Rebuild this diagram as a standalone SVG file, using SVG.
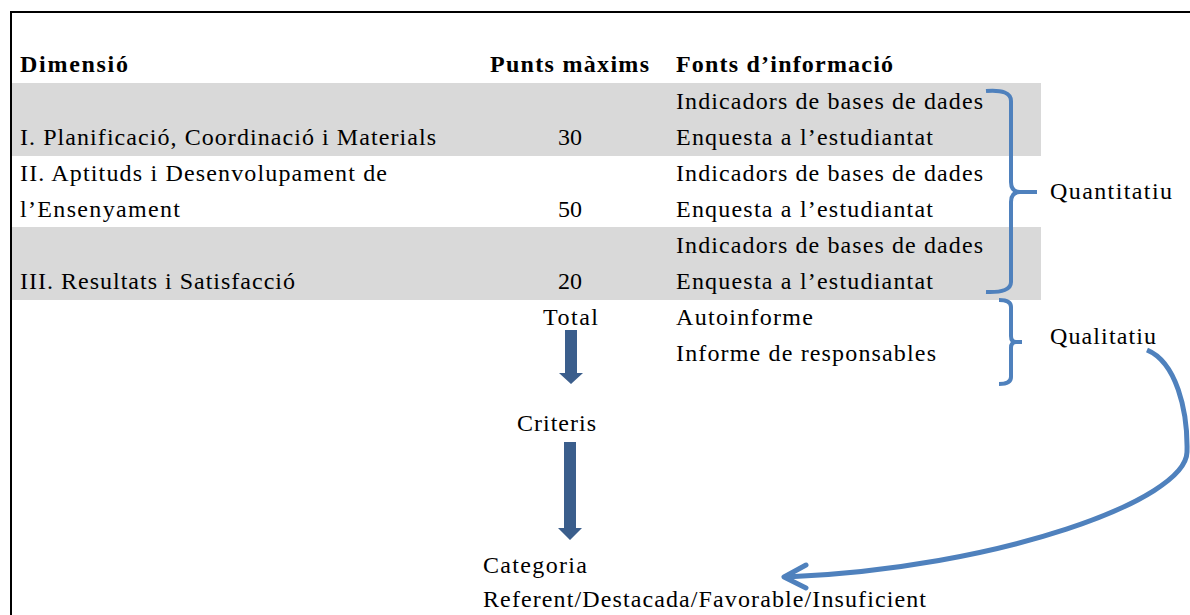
<svg xmlns="http://www.w3.org/2000/svg" width="1190" height="615" viewBox="0 0 1190 615">
<style>
text{font-family:"Liberation Serif",Tinos,"Times New Roman","Noto Serif","DejaVu Serif",serif;font-size:24px;fill:#000}
.b{font-weight:bold}
.m{text-anchor:middle}
.band{fill:#D9D9D9}
.brace{fill:none;stroke:#4F81BD;stroke-width:4;stroke-linecap:butt}
.down{fill:#3B5E8C}
</style>
<rect x="0" y="0" width="1190" height="615" fill="#fff"/>
<g id="frame">
<path d="M11,615 L11,12 L1190,12" fill="none" stroke="#000" stroke-width="2"/>
</g>
<g id="bands">
<rect class="band" x="12" y="83" width="1029" height="73"/>
<rect class="band" x="12" y="227" width="1029" height="73"/>
</g>
<g id="header">
<text class="b" x="20" y="72" textLength="108" lengthAdjust="spacing">Dimensió</text>
<text class="b" x="490" y="72" textLength="159" lengthAdjust="spacing">Punts màxims</text>
<text class="b" x="676" y="72" textLength="217" lengthAdjust="spacing">Fonts d’informació</text>
</g>
<g id="row1">
<text x="20" y="145" textLength="416" lengthAdjust="spacing">I. Planificació, Coordinació i Materials</text>
<text class="m" x="570" y="145">30</text>
<text x="676" y="109" textLength="307" lengthAdjust="spacing">Indicadors de bases de dades</text>
<text x="676" y="145" textLength="257" lengthAdjust="spacing">Enquesta a l’estudiantat</text>
</g>
<g id="row2">
<text x="20" y="181" textLength="367" lengthAdjust="spacing">II. Aptituds i Desenvolupament de</text>
<text x="20" y="217" textLength="160" lengthAdjust="spacing">l’Ensenyament</text>
<text class="m" x="570" y="217">50</text>
<text x="676" y="181" textLength="307" lengthAdjust="spacing">Indicadors de bases de dades</text>
<text x="676" y="217" textLength="257" lengthAdjust="spacing">Enquesta a l’estudiantat</text>
</g>
<g id="row3">
<text x="20" y="289" textLength="275" lengthAdjust="spacing">III. Resultats i Satisfacció</text>
<text class="m" x="570" y="289">20</text>
<text x="676" y="253" textLength="307" lengthAdjust="spacing">Indicadors de bases de dades</text>
<text x="676" y="289" textLength="257" lengthAdjust="spacing">Enquesta a l’estudiantat</text>
</g>
<g id="total">
<text x="543" y="325" textLength="55" lengthAdjust="spacing">Total</text>
</g>
<g id="qualsources">
<text x="676" y="325" textLength="137" lengthAdjust="spacing">Autoinforme</text>
<text x="676" y="361" textLength="260" lengthAdjust="spacing">Informe de responsables</text>
</g>
<g id="quantitatiu">
<text x="1050" y="199" textLength="122" lengthAdjust="spacing">Quantitatiu</text>
</g>
<g id="qualitatiu">
<text x="1050" y="344" textLength="106" lengthAdjust="spacing">Qualitatiu</text>
</g>
<g id="criteris">
<text x="517" y="431" textLength="79" lengthAdjust="spacing">Criteris</text>
</g>
<g id="categoria">
<text x="483" y="573" textLength="104" lengthAdjust="spacing">Categoria</text>
<text x="483" y="607" textLength="443" lengthAdjust="spacing">Referent/Destacada/Favorable/Insuficient</text>
</g>
<g id="connectors">
<path class="brace" d="M986,91 Q1011,89 1011,101 L1011,182 Q1011,192 1020,192 L1037,192 M1020,192 Q1011,192 1011,202 L1011,282 Q1011,293 986,292"/>
<path class="brace" d="M999,300 Q1011,300 1011,307 L1011,336 Q1011,342 1016,342 L1022,342 M1016,342 Q1011,342 1011,348 L1011,377 Q1011,384 999,384"/>
<path class="down" d="M565,330 L577,330 L577,373 L583,373 L571,384 L559,373 L565,373 Z"/>
<path class="down" d="M564,442 L576,442 L576,528 L582,528 L570,540 L558,528 L564,528 Z"/>
<path d="M1147,350 C1176,362 1188,410 1187,452 C1186,500 1000,568 786,577" fill="none" stroke="#4F81BD" stroke-width="5"/>
<path d="M806,565 L784,577 L806,588" fill="none" stroke="#4F81BD" stroke-width="5" stroke-linecap="round" stroke-linejoin="round"/>
</g>
</svg>
